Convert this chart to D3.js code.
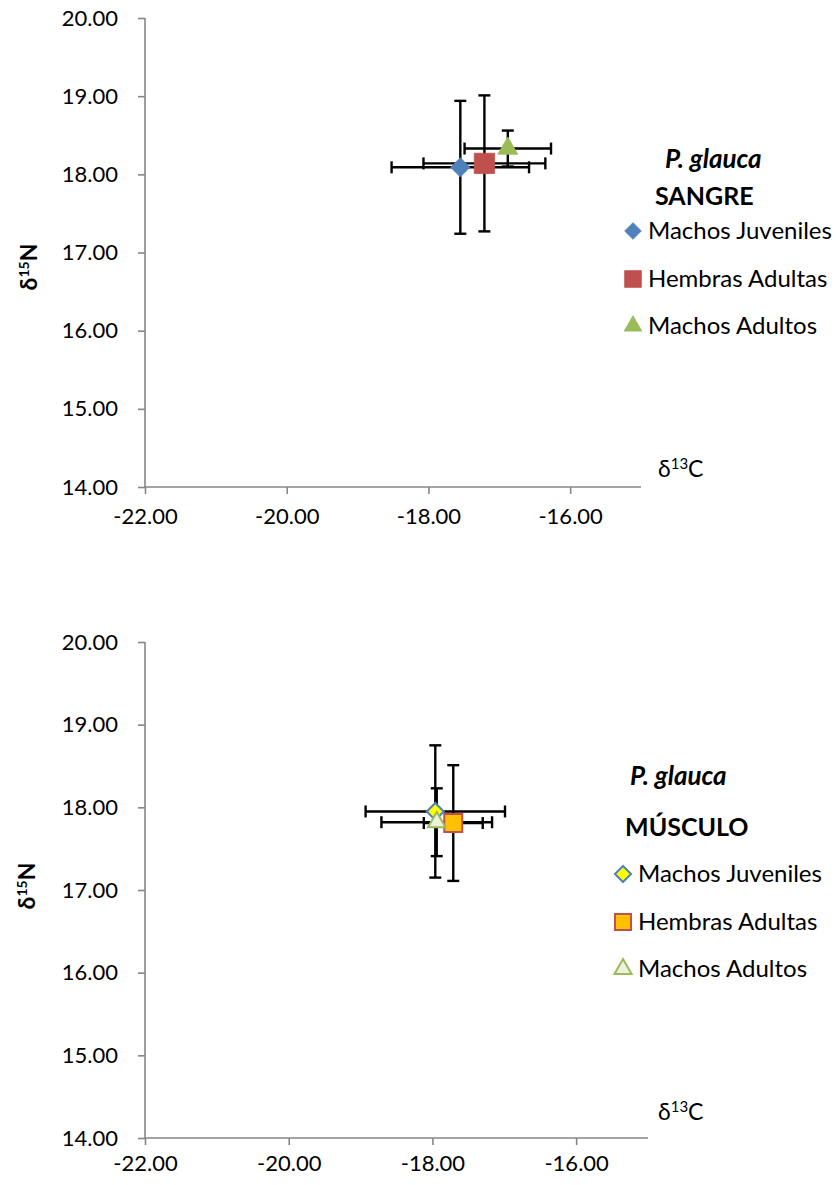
<!DOCTYPE html>
<html>
<head>
<meta charset="utf-8">
<script src="https://d3js.org/d3.v7.min.js"></script>
<title>P. glauca isotopes</title>
<style>
body { margin: 0; background: #fff; }
svg { display: block; font-family: Lato, "Open Sans", sans-serif; }
</style>
</head>
<body>
<svg width="840" height="1185"></svg>
<script>

// groups shared by both panels
let groups = ["Machos Juveniles", "Hembras Adultas", "Machos Adultos"];
let shapes = ["diamond", "square", "triangle"];

// SANGRE (blood)
let sangreC   = [-17.55, -17.21, -16.88];
let sangreCsd = [0.97, 0.86, 0.61];
let sangreN   = [18.09, 18.14, 18.33];
let sangreNsd = [0.85, 0.87, 0.23];

// MUSCULO (muscle)
let musculoC   = [-17.96, -17.71, -17.94];
let musculoCsd = [0.97, 0.41, 0.77];
let musculoN   = [17.95, 17.81, 17.82];
let musculoNsd = [0.80, 0.70, 0.41];

let xTicks = [-22, -20, -18, -16];
let yTicks = [14, 15, 16, 17, 18, 19, 20];

let svg = d3.select("svg");
let fmt = function(d) { return d.toFixed(2); };

function symbolFor(shape, size) {
  let type = shape == "diamond" ? d3.symbolDiamond2 : (shape == "square" ? d3.symbolSquare2 : d3.symbolTriangle2);
  return d3.symbol().type(type).size(size)();
}

function drawPanel(opt) {
  let x = d3.scaleLinear().domain([-22, -15]).range([145, opt.right]);
  let y = d3.scaleLinear().domain([14, 20]).range([opt.bottom, opt.top]);
  let g = svg.append("g");

  // axes
  let yAxis = g.append("g").attr("transform", "translate(145,0)")
    .call(d3.axisLeft(y).tickValues(yTicks).tickSize(7).tickPadding(20).tickFormat(fmt));
  let xAxis = g.append("g").attr("transform", "translate(0," + opt.bottom + ")")
    .call(d3.axisBottom(x).tickValues(xTicks).tickSize(7).tickPadding(opt.xpad).tickFormat(fmt));
  [yAxis, xAxis].forEach(function(a) {
    a.select(".domain").attr("stroke", "#868686").attr("stroke-width", 1.6);
    a.selectAll(".tick line").attr("stroke", "#868686").attr("stroke-width", 1.6);
    a.selectAll("text").attr("font-size", 22).attr("fill", "#000").attr("font-family", "Lato");
  });
  xAxis.select(".domain").attr("d", "M145,0H" + opt.right);
  yAxis.select(".domain").attr("d", "M0," + opt.bottom + "V" + opt.top);

  // error bars
  let cap = 6;
  let bars = g.append("g").attr("stroke", "#000").attr("stroke-width", 2.4);
  for (let i = 0; i < groups.length; i++) {
    let cx = x(opt.c[i]), cy = y(opt.n[i]);
    let x0 = x(opt.c[i] - opt.csd[i]), x1 = x(opt.c[i] + opt.csd[i]);
    let y0 = y(opt.n[i] - opt.nsd[i]), y1 = y(opt.n[i] + opt.nsd[i]);
    bars.append("line").attr("x1", x0).attr("x2", x1).attr("y1", cy).attr("y2", cy);
    bars.append("line").attr("x1", x0).attr("x2", x0).attr("y1", cy - cap).attr("y2", cy + cap);
    bars.append("line").attr("x1", x1).attr("x2", x1).attr("y1", cy - cap).attr("y2", cy + cap);
    bars.append("line").attr("x1", cx).attr("x2", cx).attr("y1", y0).attr("y2", y1);
    bars.append("line").attr("x1", cx - cap).attr("x2", cx + cap).attr("y1", y0).attr("y2", y0);
    bars.append("line").attr("x1", cx - cap).attr("x2", cx + cap).attr("y1", y1).attr("y2", y1);
  }

  // markers
  for (let i = 0; i < groups.length; i++) {
    g.append("path")
      .attr("d", symbolFor(shapes[i], opt.msize[i]))
      .attr("transform", "translate(" + x(opt.c[i]) + "," + y(opt.n[i]) + ")")
      .attr("fill", opt.fill[i])
      .attr("stroke", opt.stroke[i])
      .attr("stroke-width", opt.sw);
  }

  // axis titles
  let yt = g.append("text")
    .attr("transform", "translate(" + opt.ytx + "," + opt.yty + ") rotate(-90)")
    .attr("text-anchor", "middle").attr("font-size", 23).attr("font-weight", "bold");
  yt.append("tspan").text("δ");
  yt.append("tspan").text("15").attr("font-size", 14).attr("dy", -8);
  yt.append("tspan").text("N").attr("dy", 8);

  let xt = g.append("text").attr("x", 658).attr("y", opt.xty).attr("font-size", 23);
  xt.append("tspan").text("δ");
  xt.append("tspan").text("13").attr("font-size", 15).attr("dy", -8);
  xt.append("tspan").text("C").attr("dy", 8);

  // legend
  g.append("text").attr("x", opt.titleX).attr("y", opt.titleY)
    .attr("font-size", 26).attr("font-weight", "bold").attr("font-style", "italic")
    .text("P. glauca");
  g.append("text").attr("x", opt.subX).attr("y", opt.subY)
    .attr("font-size", 25).attr("font-weight", "bold")
    .text(opt.tissue);
  for (let i = 0; i < groups.length; i++) {
    let ly = opt.legY[i];
    g.append("path")
      .attr("d", symbolFor(shapes[i], opt.lsize[i]))
      .attr("transform", "translate(" + opt.legX + "," + (ly - 8) + ")")
      .attr("fill", opt.fill[i])
      .attr("stroke", opt.stroke[i])
      .attr("stroke-width", opt.sw);
    g.append("text").attr("x", opt.legX + 15).attr("y", ly)
      .attr("font-size", 24).text(groups[i]);
  }
}

drawPanel({
  c: sangreC, csd: sangreCsd, n: sangreN, nsd: sangreNsd,
  top: 18, bottom: 487, right: 641, xpad: 14,
  fill: ["#4F81BD", "#C0504D", "#9BBB59"],
  stroke: ["#4F81BD", "#C0504D", "#9BBB59"], sw: 0.8,
  msize: [237, 525, 286], lsize: [178, 355, 224],
  ytx: 37, yty: 267, xty: 477,
  titleX: 665, titleY: 168, subX: 655, subY: 205, tissue: "SANGRE",
  legX: 633, legY: [239, 287, 334]
});

drawPanel({
  c: musculoC, csd: musculoCsd, n: musculoN, nsd: musculoNsd,
  top: 642, bottom: 1138, right: 648, xpad: 10,
  fill: ["#FFFF00", "#FFC000", "#EBF1DE"],
  stroke: ["#4F81BD", "#C0504D", "#9BBB59"], sw: 2,
  msize: [185, 412, 219], lsize: [165, 330, 210],
  ytx: 35, yty: 886, xty: 1120,
  titleX: 630, titleY: 785, subX: 625, subY: 836, tissue: "MÚSCULO",
  legX: 623, legY: [882, 930, 977]
});

</script>
</body>
</html>
